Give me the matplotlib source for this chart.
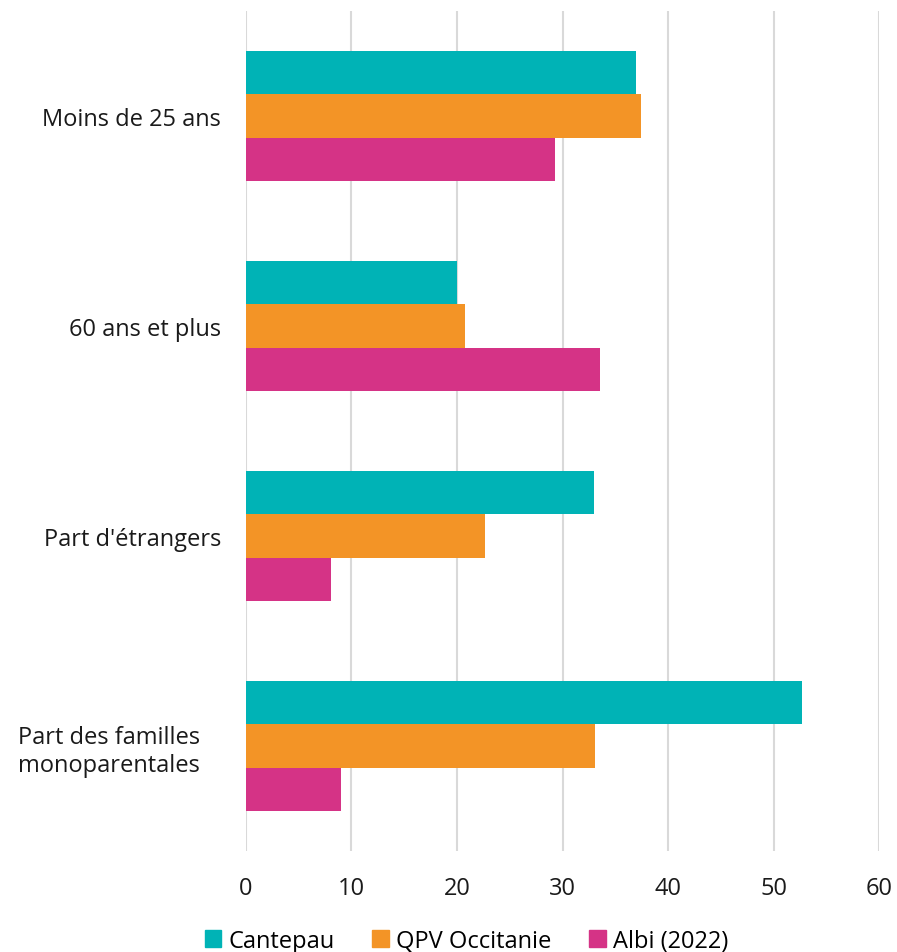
import numpy as np
import matplotlib
matplotlib.use("Agg")
import matplotlib.pyplot as plt
from matplotlib.patches import Patch

plt.rcParams["font.family"] = ["Open Sans", "DejaVu Sans"]

# -------------------------------
# DATA
# -------------------------------
categories = [
    "Moins de 25 ans",
    "60 ans et plus",
    "Part d'étrangers",
    "Part des familles\nmonoparentales",
]
series_names = ["Cantepau", "QPV Occitanie", "Albi (2022)"]
cantepau = [37.0, 20.0, 33.0, 52.7]
qpv_occitanie = [37.4, 20.8, 22.7, 33.1]
albi = [29.3, 33.6, 8.1, 9.0]

colors = ["#00B3B6", "#F39426", "#D53386"]
FS = 17

# -------------------------------
# DRAW
# -------------------------------
fig = plt.figure(figsize=(8.97, 9.53), dpi=100)
ax = fig.add_axes([0.2742, 0.106, 0.7058, 0.8814])

y = np.arange(len(categories))
h = 0.207
for i, (vals, c) in enumerate(zip([cantepau, qpv_occitanie, albi], colors)):
    ax.barh(y + (i - 1) * h, vals, height=h, color=c, zorder=3)

ax.set_xlim(0, 60)
ax.set_ylim(len(categories) - 0.5, -0.5)
ax.set_xticks(range(0, 61, 10))
ax.set_yticks(y)
ax.set_yticklabels(categories, multialignment="left", linespacing=1.25)
ax.xaxis.grid(True, color="#d9d9d9", linewidth=1.5, zorder=0)
ax.set_axisbelow(True)
for s in ax.spines.values():
    s.set_visible(False)
ax.tick_params(axis="both", length=0, labelsize=FS, colors="#1a1a1a")
ax.tick_params(axis="x", pad=18)
ax.tick_params(axis="y", pad=18)

# wrapped label sits a bit further left, as in the source chart
for lbl in ax.get_yticklabels():
    if "\n" in lbl.get_text():
        lbl.set_x(-0.033)

handles = [Patch(color=c, label=n) for c, n in zip(colors, series_names)]
fig.legend(handles=handles, loc="center", bbox_to_anchor=(0.52, 0.012),
           ncol=3, frameon=False, fontsize=FS, handlelength=0.7,
           handleheight=0.7, handletextpad=0.3, columnspacing=1.6)

fig.savefig("out.png", dpi=100)
